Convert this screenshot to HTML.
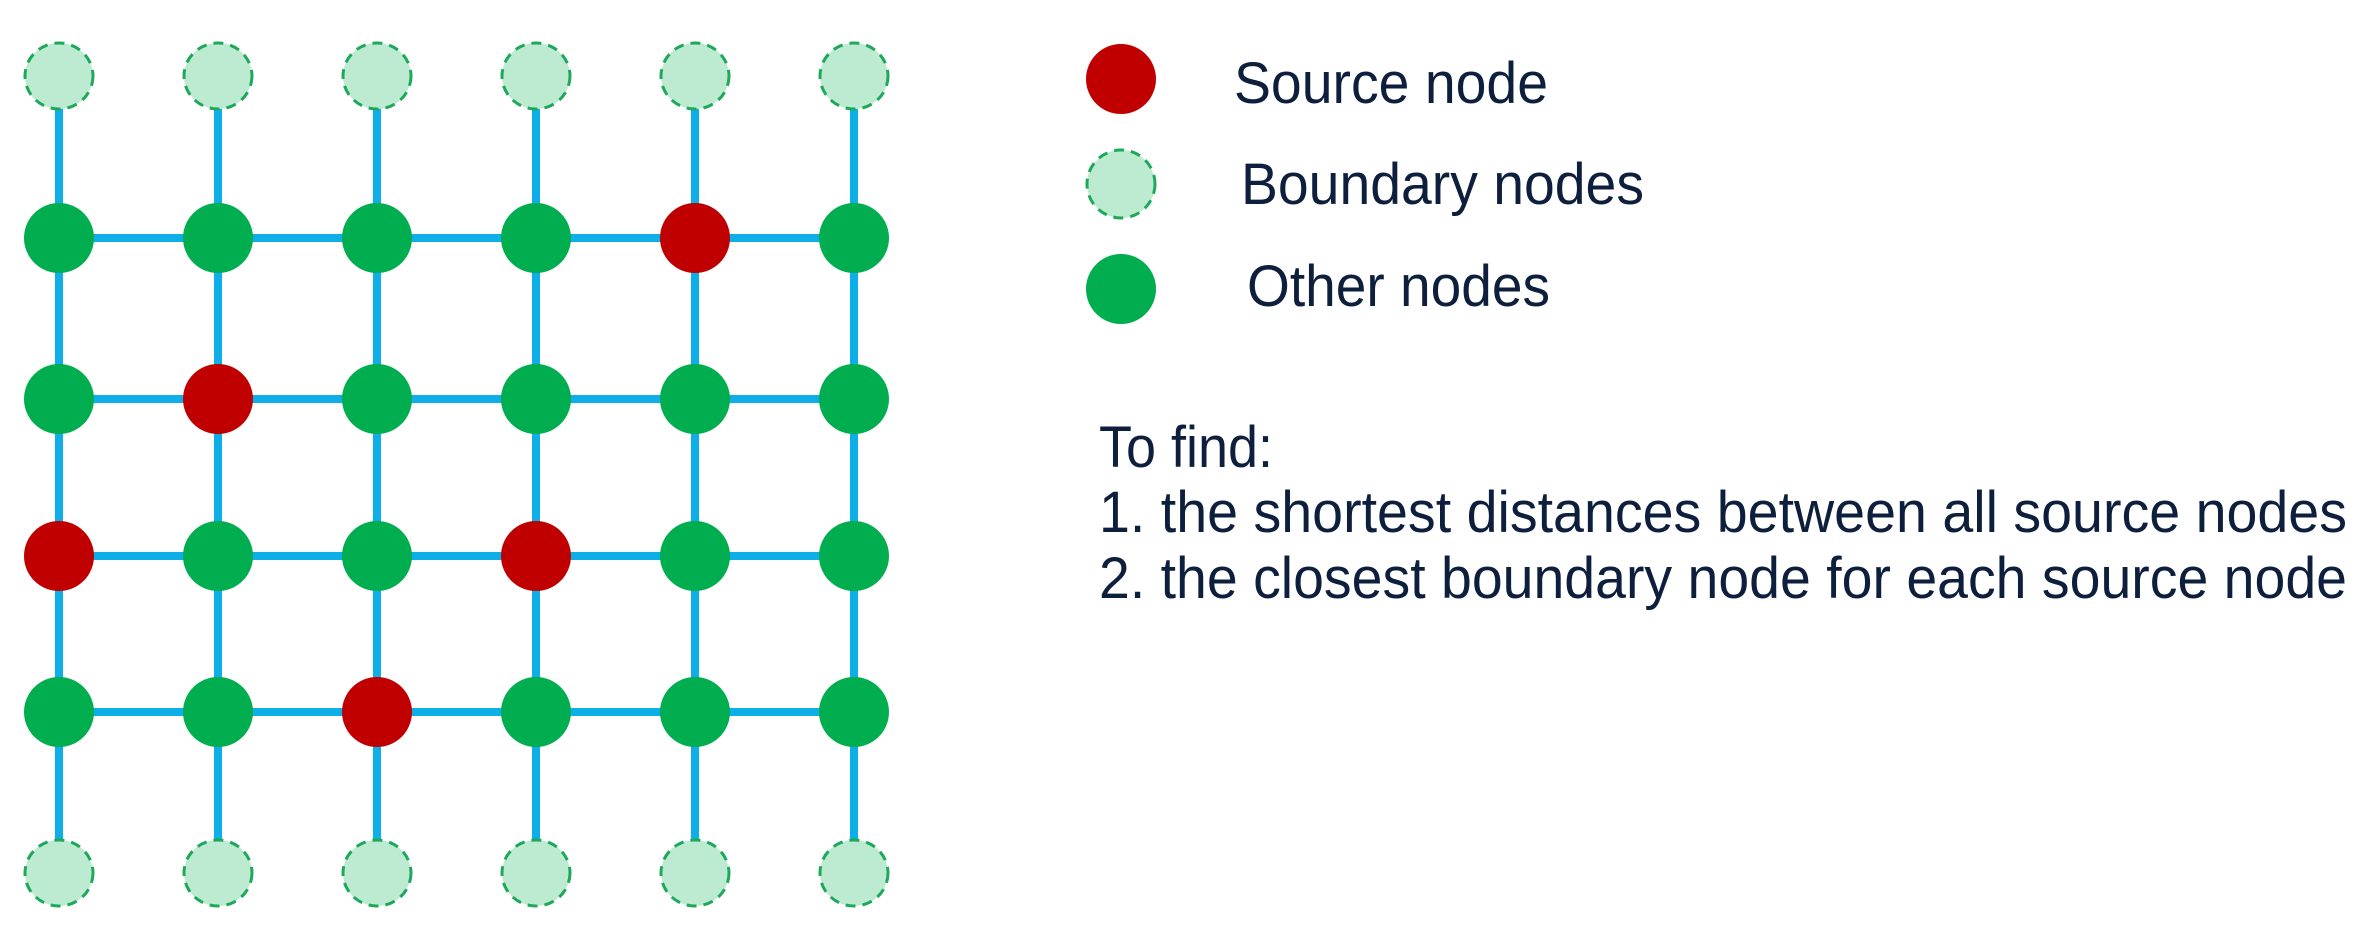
<!DOCTYPE html>
<html><head><meta charset="utf-8"><style>html,body{margin:0;padding:0;background:#fff;}svg{display:block;}
text{font-family:"Liberation Sans",Arial,sans-serif;fill:#0d1f3c;}</style></head>
<body>
<svg id="chart" width="2362" height="945" viewBox="0 0 2362 945" xmlns="http://www.w3.org/2000/svg">
<g id="edges"></g>
<g id="nodes"></g>
<g>
<ellipse cx="1121" cy="79" rx="35" ry="35" fill="#c00000"/>
<text x="1234" y="103" font-size="58" textLength="314" lengthAdjust="spacingAndGlyphs">Source node</text>
<ellipse cx="1121" cy="184" rx="34" ry="34" fill="#bdebd2" stroke="#1ea85a" stroke-width="3" stroke-dasharray="10,7"/>
<text x="1241" y="204" font-size="58" textLength="403" lengthAdjust="spacingAndGlyphs">Boundary nodes</text>
<ellipse cx="1121" cy="289" rx="35" ry="35" fill="#00ad4f"/>
<text x="1247" y="306" font-size="58" textLength="303" lengthAdjust="spacingAndGlyphs">Other nodes</text>
</g>
<g>
<text x="1099" y="467" font-size="58" textLength="174" lengthAdjust="spacingAndGlyphs">To find:</text>
<text x="1099" y="532" font-size="58" textLength="1248" lengthAdjust="spacingAndGlyphs">1. the shortest distances between all source nodes</text>
<text x="1099" y="598" font-size="58" textLength="1248" lengthAdjust="spacingAndGlyphs">2. the closest boundary node for each source node</text>
</g>
</svg>
<script>
const colCenters = [59, 218, 377, 536, 695, 854];
const rowCenters = [76, 238, 399, 556, 712, 873];
const sourceNodes = [[1,4],[2,1],[3,0],[3,3],[4,2]];
const boundaryRows = [0,5];
const NS='http://www.w3.org/2000/svg';
const eg=document.getElementById('edges'), ng=document.getElementById('nodes');
function line(x1,y1,x2,y2,name){const l=document.createElementNS(NS,'line');
l.setAttribute('x1',x1);l.setAttribute('y1',y1);l.setAttribute('x2',x2);l.setAttribute('y2',y2);
l.setAttribute('stroke','#0eaee8');l.setAttribute('stroke-width','8');


eg.appendChild(l);}
colCenters.forEach((x,c)=>line(x,rowCenters[0],x,rowCenters[rowCenters.length-1],'vertical-edge-'+c));
rowCenters.forEach((y,r)=>{if(boundaryRows.includes(r))return;line(colCenters[0],y,colCenters[colCenters.length-1],y,'horizontal-edge-'+r);});
rowCenters.forEach((y,r)=>colCenters.forEach((x,c)=>{
const e=document.createElementNS(NS,'ellipse');
e.setAttribute('cx',x);e.setAttribute('cy',y);
let kind='other';
if(boundaryRows.includes(r)){kind='boundary';e.setAttribute('rx',34);e.setAttribute('ry',33);e.setAttribute('fill','#bdebd2');e.setAttribute('stroke','#1ea85a');e.setAttribute('stroke-width','3');e.setAttribute('stroke-dasharray','10,7');}
else{e.setAttribute('rx',35);e.setAttribute('ry',35);
if(sourceNodes.some(s=>s[0]===r&&s[1]===c)){kind='source';e.setAttribute('fill','#c00000');}else e.setAttribute('fill','#00ad4f');}


ng.appendChild(e);}));
</script>
</body></html>
